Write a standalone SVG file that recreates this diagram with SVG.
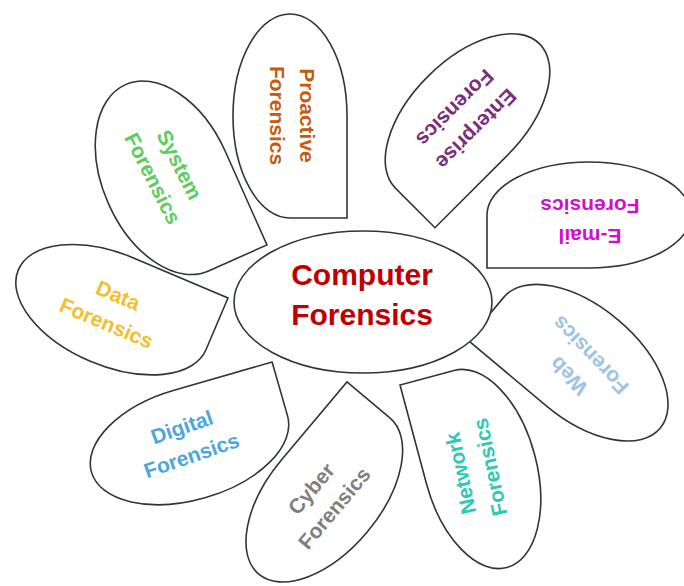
<svg xmlns="http://www.w3.org/2000/svg" width="684" height="586" viewBox="0 0 684 586">
  <style>
    .petal { fill: none; stroke: #2f3538; stroke-width: 1.6; stroke-linejoin: miter; }
    .hub { fill: #ffffff; stroke: #2f3538; stroke-width: 1.6; }
    .lbl { font-family: "Liberation Sans", Arial, sans-serif; font-weight: bold; font-size: 21px; text-anchor: middle; }
    .hubtxt { font-family: "Liberation Sans", Arial, sans-serif; font-weight: bold; font-size: 30px; text-anchor: middle; fill: #c00000; }
  </style>
  <rect width="684" height="586" fill="#ffffff"/>

  <!-- Each petal: an ellipse with one quadrant squared off into a point facing the hub -->
  <g id="proactive">
    <path class="petal" transform="translate(290,116) rotate(0)" d="M57,0 L57,102 L0,102 A57 102 0 1 1 57,0 Z"/>
    <g class="lbl" fill="#c55a11" transform="translate(291.5,115.5) rotate(90)">
      <text x="0" y="-8.5">Proactive</text>
      <text x="0" y="21.5">Forensics</text>
    </g>
  </g>

  <g id="enterprise">
    <path class="petal" transform="translate(467.5,116) rotate(45)" d="M56,0 L56,102 L0,102 A56 102 0 1 1 56,0 Z"/>
    <g class="lbl" fill="#7a2e7e" transform="translate(465,118) rotate(135)">
      <text x="0" y="-8.5">Enterprise</text>
      <text x="0" y="21.5">Forensics</text>
    </g>
  </g>

  <g id="email">
    <path class="petal" transform="translate(589,215) rotate(90)" d="M53,0 L53,102 L0,102 A53 102 0 1 1 53,0 Z"/>
    <g class="lbl" fill="#d10fd1" transform="translate(590,220) rotate(180)">
      <text x="0" y="-8.5">E-mail</text>
      <text x="0" y="21.5">Forensics</text>
    </g>
  </g>

  <g id="web">
    <path class="petal" transform="translate(582,362.7) rotate(130)" d="M56,0 L56,102 L0,102 A56 102 0 1 1 56,0 Z"/>
    <g class="lbl" fill="#9dc3e6" transform="translate(580,365) rotate(226)">
      <text x="0" y="-8.5">Web</text>
      <text x="0" y="21.5">Forensics</text>
    </g>
  </g>

  <g id="network">
    <path class="petal" transform="translate(480.5,469) rotate(165)" d="M56,0 L56,102 L0,102 A56 102 0 1 1 56,0 Z"/>
    <g class="lbl" fill="#2cc9b5" transform="translate(476,470) rotate(258)">
      <text x="0" y="-8.5">Network</text>
      <text x="0" y="21.5">Forensics</text>
    </g>
  </g>

  <g id="cyber">
    <path class="petal" transform="translate(324.3,496) rotate(220)" d="M56,0 L56,102 L0,102 A56 102 0 1 1 56,0 Z"/>
    <g class="lbl" fill="#7f7f7f" transform="translate(323.5,499) rotate(310)">
      <text x="0" y="-8.5">Cyber</text>
      <text x="0" y="21.5">Forensics</text>
    </g>
  </g>

  <g id="digital">
    <path class="petal" transform="translate(189.5,444) rotate(254)" d="M56,0 L56,102 L0,102 A56 102 0 1 1 56,0 Z"/>
    <g class="lbl" fill="#4ea6dc" transform="translate(187,442) rotate(-19)">
      <text x="0" y="-8.5">Digital</text>
      <text x="0" y="21.5">Forensics</text>
    </g>
  </g>

  <g id="data">
    <path class="petal" transform="translate(112.2,309.7) rotate(-67)" d="M56,0 L56,102 L0,102 A56 102 0 1 1 56,0 Z"/>
    <g class="lbl" fill="#f0c030" transform="translate(112,310) rotate(23)">
      <text x="0" y="-8.5">Data</text>
      <text x="0" y="21.5">Forensics</text>
    </g>
  </g>

  <g id="system">
    <path class="petal" transform="translate(167,177.8) rotate(-24)" d="M64,0 L64,102 L0,102 A64 102 0 1 1 64,0 Z"/>
    <g class="lbl" fill="#5dcc5d" transform="translate(165.5,172) rotate(63)">
      <text x="0" y="-8.5">System</text>
      <text x="0" y="21.5">Forensics</text>
    </g>
  </g>

  <!-- Hub -->
  <g id="computer-forensics">
    <ellipse class="hub" cx="363" cy="302" rx="129" ry="71"/>
    <text class="hubtxt" x="362" y="285">Computer</text>
    <text class="hubtxt" x="362" y="325">Forensics</text>
  </g>
</svg>
